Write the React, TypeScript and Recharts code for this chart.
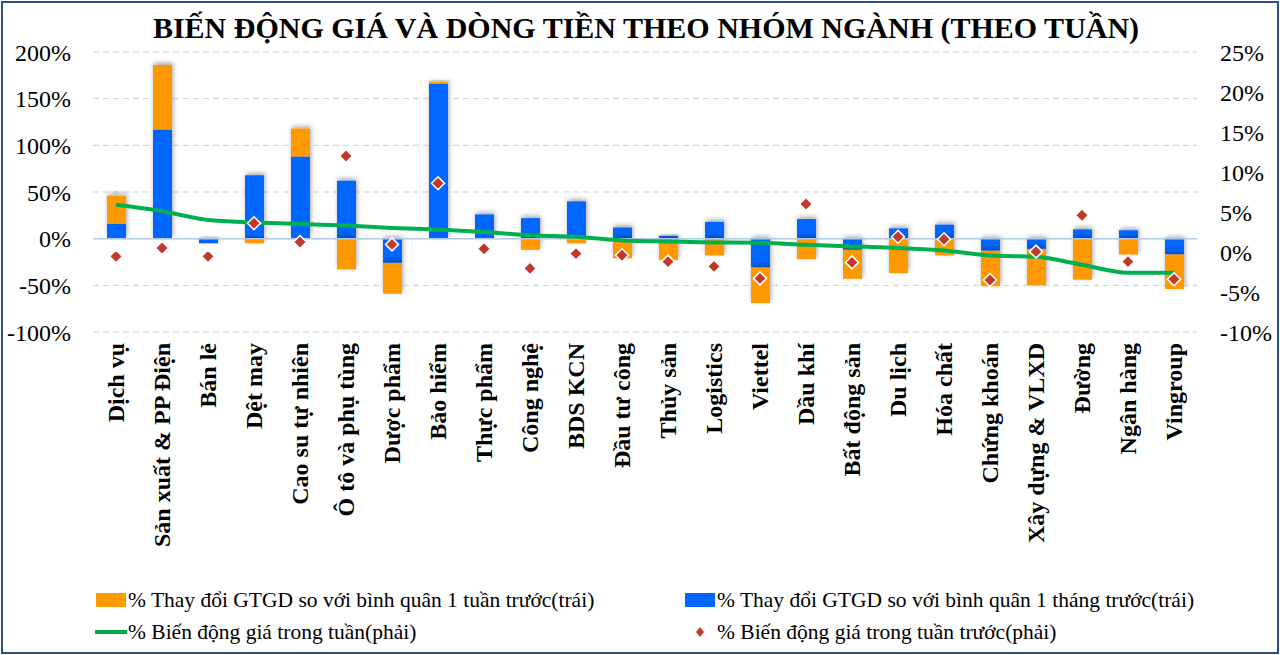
import React from "react";
import {
  ComposedChart, Bar, Line, XAxis, YAxis, CartesianGrid, ReferenceLine,
} from "recharts";

const categories = [
  "Dịch vụ", "Sản xuất & PP Điện", "Bán lẻ", "Dệt may", "Cao su tự nhiên",
  "Ô tô và phụ tùng", "Dược phẩm", "Bảo hiểm", "Thực phẩm", "Công nghệ",
  "BDS KCN", "Đầu tư công", "Thủy sản", "Logistics", "Viettel", "Dầu khí",
  "Bất động sản", "Du lịch", "Hóa chất", "Chứng khoán", "Xây dựng & VLXD",
  "Đường", "Ngân hàng", "Vingroup",
];

// % thay đổi GTGD so với bình quân 1 tháng trước (trái)
const monthChange = [16, 117, -5, 68, 88, 62, -26, 166, 26, 22, 40, 12, 3, 18, -31, 21, -12, 11, 15, -13, -11, 10, 9, -17];
// % thay đổi GTGD so với bình quân 1 tuần trước (trái)
const weekChange = [30, 69, 0, -5, 30, -33, -33, 2, 0, -12, -5, -21, -23, -18, -38, -22, -31, -37, -18, -38, -39, -44, -17, -37];
// % biến động giá trong tuần (phải)
const priceWeek = [5.9, 5.1, 4.0, 3.7, 3.5, 3.3, 3.0, 2.8, 2.5, 2.1, 1.9, 1.45, 1.3, 1.2, 1.15, 0.9, 0.7, 0.5, 0.2, -0.45, -0.6, -1.6, -2.6, -2.6];
// % biến động giá trong tuần trước (phải)
const pricePrevWeek = [-0.55, 0.5, -0.55, 3.6, 1.25, 12.0, 0.95, 8.6, 0.4, -2.05, -0.2, -0.4, -1.2, -1.8, -3.3, 6.0, -1.3, 1.9, 1.6, -3.5, 0.05, 4.6, -1.2, -3.4];

const leftTicks = [-100, -50, 0, 50, 100, 150, 200];
const rightTicks = [-10, -5, 0, 5, 10, 15, 20, 25];

const data = categories.map((name, i) => ({
  name,
  month: monthChange[i],
  week: weekChange[i],
  price: priceWeek[i],
  prev: pricePrevWeek[i],
}));

const FONT = '"Liberation Serif", "Times New Roman", serif';
const ORANGE = "#FF9900";
const BLUE = "#0066FF";
const GREEN = "#00B050";
const RED = "#C0392B";

function CategoryTick({ x, y, payload }: any) {
  return (
    <g transform={`translate(${x},${y})`}>
      <text transform="rotate(-90)" x={-11} y={0} dy="0.35em" textAnchor="end"
        fontFamily={FONT} fontWeight="bold" fontSize={24} fill="#000">
        {payload.value}
      </text>
    </g>
  );
}

function Diamond({ cx, cy, index }: any) {
  if (cx == null || cy == null) return <g key={index} />;
  const r = 6.5;
  return (
    <path key={index} d={`M${cx},${cy - r}L${cx + r},${cy}L${cx},${cy + r}L${cx - r},${cy}Z`}
      fill={RED} stroke="#fff" strokeWidth={1.5} />
  );
}

const legendText: React.CSSProperties = { fontFamily: FONT, fontSize: 21.5, color: "#000", whiteSpace: "nowrap" };

function LegendRow({ top, left, swatch, label }: { top: number; left: number; swatch: React.ReactNode; label: string }) {
  return (
    <div style={{ position: "absolute", top, left, display: "flex", alignItems: "center", height: 24 }}>
      <div style={{ width: 34, display: "flex", justifyContent: "center", alignItems: "center" }}>{swatch}</div>
      <span style={legendText}>{label}</span>
    </div>
  );
}

export default function App() {
  return (
    <div style={{ position: "absolute", top: 0, left: 0, width: 1280, height: 655, background: "#fff" }}>
      <div style={{ position: "absolute", left: 1, top: 1, width: 1274, height: 649, border: "2px solid #2F4C8C" }} />
      <div style={{
        position: "absolute", left: 6, top: 11, width: 1280, textAlign: "center",
        fontFamily: FONT, fontWeight: "bold", fontSize: 30, color: "#000",
      }}>
        BIẾN ĐỘNG GIÁ VÀ DÒNG TIỀN THEO NHÓM NGÀNH (THEO TUẦN)
      </div>
      <div style={{ position: "absolute", left: 0, top: 0 }}>
        <ComposedChart width={1280} height={655} data={data} stackOffset="sign"
          margin={{ top: 52, right: 0, left: 0, bottom: 83 }}>
          <defs>
            <filter id="barShadow" x="-50%" y="-50%" width="200%" height="200%">
              <feDropShadow dx="1" dy="-2" stdDeviation="2.5" floodColor="#000" floodOpacity="0.35" />
            </filter>
          </defs>
          <CartesianGrid yAxisId="left" vertical={false} stroke="#C5D3E6" strokeDasharray="6 4" />
          <XAxis dataKey="name" interval={0} tick={<CategoryTick />} tickLine={false} axisLine={false}
            height={240} tickSize={0} tickMargin={0} />
          <YAxis yAxisId="left" domain={[-100, 200]} ticks={leftTicks} width={93}
            tickFormatter={(v: number) => `${v}%`} axisLine={false} tickLine={false}
            tickSize={0} tickMargin={22} tick={{ fontFamily: FONT, fontSize: 24, fill: "#000" }} />
          <YAxis yAxisId="right" orientation="right" domain={[-10, 25]} ticks={rightTicks} width={83}
            tickFormatter={(v: number) => `${v}%`} axisLine={false} tickLine={false}
            tickSize={0} tickMargin={23} tick={{ fontFamily: FONT, fontSize: 24, fill: "#000", textAnchor: "start" }} />
          <ReferenceLine yAxisId="left" y={0} stroke="#B4C7E7" strokeWidth={1.5} />
          <Bar yAxisId="left" dataKey="month" stackId="a" fill={BLUE} barSize={19}
            filter="url(#barShadow)" isAnimationActive={false} />
          <Bar yAxisId="left" dataKey="week" stackId="a" fill={ORANGE} barSize={19}
            filter="url(#barShadow)" isAnimationActive={false} />
          <Line yAxisId="right" type="monotone" dataKey="price" stroke={GREEN} strokeWidth={4}
            dot={false} activeDot={false} isAnimationActive={false} />
          <Line yAxisId="right" dataKey="prev" stroke="none" strokeWidth={0}
            dot={(p: any) => <Diamond key={p.index} {...p} />} activeDot={false} isAnimationActive={false} />
        </ComposedChart>
      </div>
      <LegendRow top={588} left={94} label="% Thay đổi GTGD so với bình quân 1 tuần trước(trái)"
        swatch={<div style={{ width: 30, height: 14, background: ORANGE }} />} />
      <LegendRow top={588} left={683} label="% Thay đổi GTGD so với bình quân 1 tháng trước(trái)"
        swatch={<div style={{ width: 30, height: 14, background: BLUE }} />} />
      <LegendRow top={620} left={94} label="% Biến động giá trong tuần(phải)"
        swatch={<div style={{ width: 32, height: 4, background: GREEN }} />} />
      <LegendRow top={620} left={683} label="% Biến động giá trong tuần trước(phải)"
        swatch={<svg width={12} height={12}><path d="M6,1L10,6L6,11L2,6Z" fill={RED} /></svg>} />
    </div>
  );
}
